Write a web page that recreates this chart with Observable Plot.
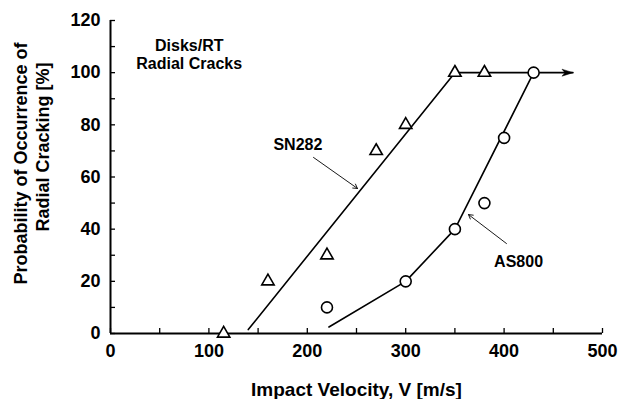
<!DOCTYPE html>
<html><head><meta charset="utf-8">
<script src="https://cdn.jsdelivr.net/npm/d3@7"></script>
<script src="https://cdn.jsdelivr.net/npm/@observablehq/plot@0.6"></script>
<style>body{margin:0;background:#fff}</style>
</head><body><div id="chart"></div>
<script>
// Measured points
const sn282V = [115, 160, 220, 270, 300, 350, 380];
const sn282P = [0, 20, 30, 70, 80, 100, 100];
const as800V = [220, 300, 350, 380, 400, 430];
const as800P = [10, 20, 40, 50, 75, 100];
// Fit lines
const sn282FitV = [140, 350];
const sn282FitP = [1.5, 100];
const as800FitV = [222, 300, 350, 430];
const as800FitP = [2.5, 20, 40, 100];
const plateauV = [350, 470];
const plateauP = [100, 100];
// Ticks
const xLabelTicks = [0, 100, 200, 300, 400, 500];
const xMinorTicks = [0, 50, 100, 150, 200, 250, 300, 350, 400, 450, 500];
const yLabelTicks = [0, 20, 40, 60, 80, 100, 120];
const yMinorTicks = [0, 10, 20, 30, 40, 50, 60, 70, 80, 90, 100, 110, 120];
// Annotations
const noteText = ["Disks/RT", "Radial Cracks"];
const noteV = [80, 80];
const noteP = [110.4, 103.5];
const seriesLabel = ["SN282", "AS800"];
const seriesLabelV = [190.4, 414.7];
const seriesLabelP = [72.3, 27.6];
const calloutV1 = [206.3, 402.4];
const calloutP1 = [67.5, 34.5];
const calloutV2 = [251, 363.8];
const calloutP2 = [55.6, 45.6];

const zip = (xs, ys) => xs.map((x, i) => ({x, y: ys[i]}));
const sn282 = zip(sn282V, sn282P);
const as800 = zip(as800V, as800P);
const sn282Fit = zip(sn282FitV, sn282FitP);
const as800Fit = zip(as800FitV, as800FitP);
const plateau = zip(plateauV, plateauP);
const notes = noteText.map((t, i) => ({t, x: noteV[i], y: noteP[i]}));
const sLabels = seriesLabel.map((t, i) => ({t, x: seriesLabelV[i], y: seriesLabelP[i]}));
const callouts = calloutV1.map((x1, i) => ({x1, y1: calloutP1[i], x2: calloutV2[i], y2: calloutP2[i]}));

const arrowHead = {
  draw(ctx, size) {
    ctx.moveTo(0, 0);
    ctx.lineTo(-11, -3.5);
    ctx.lineTo(-8, 0);
    ctx.lineTo(-11, 3.5);
    ctx.closePath();
  }
};

const font = "'Liberation Sans', Arial, Helvetica, sans-serif";

const chart = Plot.plot({
  width: 618,
  height: 399,
  marginLeft: 110,
  marginRight: 16,
  marginTop: 20,
  marginBottom: 66,
  style: {fontFamily: font, fontWeight: "bold", color: "#000", background: "#fff"},
  x: {domain: [0, 500]},
  y: {domain: [0, 120]},
  marks: [
    Plot.axisX({ticks: xMinorTicks, tickSize: -5, tickFormat: () => "", strokeWidth: 1.3, label: null}),
    Plot.axisY({ticks: yMinorTicks, tickSize: -5, tickFormat: () => "", strokeWidth: 1.3, label: null}),
    Plot.axisX({ticks: xLabelTicks, tickSize: 0, tickPadding: 11, fontSize: 18, fontWeight: "bold", label: null}),
    Plot.axisY({ticks: yLabelTicks, tickSize: 0, tickPadding: 10, fontSize: 18, fontWeight: "bold", label: null}),
    Plot.ruleX([0], {strokeWidth: 2}),
    Plot.ruleY([0], {strokeWidth: 2}),
    Plot.text(["Impact Velocity, V [m/s]"], {frameAnchor: "bottom", dy: 62, fontSize: 19, fontWeight: "bold"}),
    Plot.text(["Probability of Occurrence of"], {frameAnchor: "left", textAnchor: "middle", lineAnchor: "middle", dx: -89, dy: -13.5, rotate: -90, fontSize: 18, fontWeight: "bold"}),
    Plot.text(["Radial Cracking [%]"], {frameAnchor: "left", textAnchor: "middle", lineAnchor: "middle", dx: -67, dy: -30, rotate: -90, fontSize: 18, fontWeight: "bold"}),
    Plot.line(sn282Fit, {x: "x", y: "y", strokeWidth: 1.6}),
    Plot.line(as800Fit, {x: "x", y: "y", strokeWidth: 1.6}),
    Plot.line(plateau, {x: "x", y: "y", strokeWidth: 1.6}),
    Plot.dot([plateau[1]], {x: "x", y: "y", symbol: arrowHead, fill: "#000", stroke: "#000", strokeWidth: 0.5}),
    Plot.dot(sn282, {x: "x", y: "y", symbol: "triangle", r: 4.6, fill: "#fff", stroke: "#000", strokeWidth: 1.6}),
    Plot.dot(as800, {x: "x", y: "y", symbol: "circle", r: 5.5, fill: "#fff", stroke: "#000", strokeWidth: 1.6}),
    Plot.arrow(callouts, {x1: "x1", y1: "y1", x2: "x2", y2: "y2", strokeWidth: 0.9, headLength: 8}),
    Plot.text(notes, {x: "x", y: "y", text: "t", fontSize: 16, fontWeight: "bold"}),
    Plot.text(sLabels, {x: "x", y: "y", text: "t", fontSize: 16, fontWeight: "bold"})
  ]
});
document.getElementById("chart").appendChild(chart);
</script>
</body></html>
